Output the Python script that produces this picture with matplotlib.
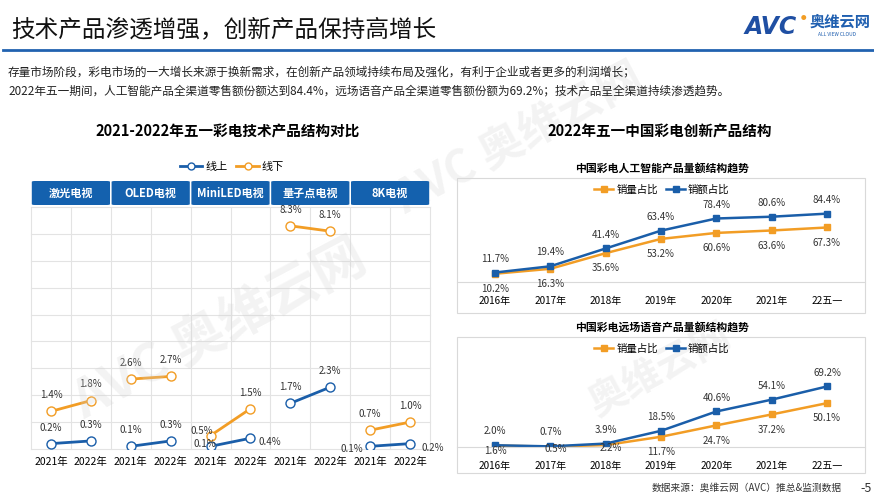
import numpy as np
import matplotlib
matplotlib.use("Agg")
from matplotlib import pyplot as plt
from matplotlib.patches import FancyBboxPatch, Rectangle
from matplotlib.lines import Line2D
import matplotlib.transforms as mtrans

plt.rcParams['font.family'] = ['Noto Sans CJK SC', 'DejaVu Sans']

# ---- data ----
tech_names = ['激光电视', 'OLED电视', 'MiniLED电视', '量子点电视', '8K电视']
years_lr = ['2021年', '2022年']
online = [0.2, 0.3, 0.1, 0.3, 0.1, 0.4, 1.7, 2.3, 0.1, 0.2]     # 线上
offline = [1.4, 1.8, 2.6, 2.7, 0.5, 1.5, 8.3, 8.1, 0.7, 1.0]    # 线下

years_r = ['2016年', '2017年', '2018年', '2019年', '2020年', '2021年', '22五一']
ai_vol = [10.2, 16.3, 35.6, 53.2, 60.6, 63.6, 67.3]
ai_amt = [11.7, 19.4, 41.4, 63.4, 78.4, 80.6, 84.4]
voice_vol = [1.6, 0.5, 2.2, 11.7, 24.7, 37.2, 50.1]
voice_amt = [2.0, 0.7, 3.9, 18.5, 40.6, 54.1, 69.2]

W, H = 874, 503
BLUE = '#1a5ea9'
ORANGE = '#f29d25'
HEAD = '#1461ae'
GRID = '#e3e3e3'

fig = plt.figure(figsize=(W / 100, H / 100), dpi=100)


def px_axes(x0, y0, x1, y1):
    return fig.add_axes([x0 / W, 1 - y1 / H, (x1 - x0) / W, (y1 - y0) / H])


def ftxt(x, y, s, **kw):
    fig.text(x / W, 1 - y / H, s, **kw)


# ---- watermarks (faint) ----
wm = dict(color='#d0d0d0', alpha=0.25, rotation=28, ha='center', va='center', fontweight='bold', zorder=0)
ftxt(220, 330, 'AVC 奥维云网', fontsize=38, **wm)
ftxt(520, 140, 'AVC 奥维云网', fontsize=32, **wm)
ftxt(660, 370, '奥维云网', fontsize=28, **wm)

# ---- header ----
ftxt(11, 30, '技术产品渗透增强，创新产品保持高增长', fontsize=17, va='center', color='#111111')
fig.add_artist(Line2D([3 / W, 1], [1 - 50 / H, 1 - 50 / H], color='#2162b0', lw=2))
ftxt(745, 27, 'AVC', fontsize=17, fontweight='bold', fontstyle='italic', color='#1f4fa3', va='center',
     family=['DejaVu Sans'])
ftxt(801, 19, '●', fontsize=4, color='#f29d25', va='center')
ftxt(810, 22, '奥维云网', fontsize=11, fontweight='bold', color='#1f5fb0', va='center')
ftxt(818, 34, 'ALL VIEW CLOUD', fontsize=3.5, color='#1f5fb0', va='center')

ftxt(8, 72, '存量市场阶段，彩电市场的一大增长来源于换新需求，在创新产品领域持续布局及强化，有利于企业或者更多的利润增长；',
     fontsize=8.4, va='center', color='#222222')
ftxt(8, 91, '2022年五一期间，人工智能产品全渠道零售额份额达到84.4%，远场语音产品全渠道零售额份额为69.2%；技术产品呈全渠道持续渗透趋势。',
     fontsize=8.4, va='center', color='#222222')

# ---- left chart ----
ftxt(228, 132, '2021-2022年五一彩电技术产品结构对比', fontsize=10.5, fontweight='bold', ha='center', va='center')

ax = px_axes(31, 207, 430, 449)
x = np.arange(len(online))
ax.set_xlim(-0.5, 9.5)
ax.set_ylim(0, 9)
for v in np.arange(-0.5, 10, 1):
    ax.axvline(v, color=GRID, lw=0.8, zorder=0, clip_on=False)
for v in range(0, 10):
    ax.axhline(v, color=GRID, lw=0.8, zorder=0, clip_on=False)
for s in ax.spines.values():
    s.set_visible(False)
ax.set_yticks([])
ax.set_xticks(x)
ax.set_xticklabels(years_lr * len(tech_names), fontsize=7.5)
ax.tick_params(axis='x', length=0, pad=6)

on_off = {4: (-4, 2), 5: (14, -3), 8: (-13, -2), 9: (16, -3)}
off_off = {4: (-6, 0)}
for i in range(len(tech_names)):
    seg = slice(2 * i, 2 * i + 2)
    ax.plot(x[seg], online[seg], color=BLUE, lw=2, marker='o', ms=6.5, mfc='white', mec=BLUE, mew=1, zorder=3)
    ax.plot(x[seg], offline[seg], color=ORANGE, lw=2, marker='o', ms=6.5, mfc='white', mec=ORANGE, mew=1, zorder=3)
for j in range(len(online)):
    dx, dy = on_off.get(j, (0, 8))
    ax.annotate(f'{online[j]:.1f}%', (x[j], online[j]), xytext=(dx, dy), textcoords='offset points',
                ha='center', va='center' if j in on_off else 'bottom', fontsize=7, color='#333333')
    dx, dy = off_off.get(j, (0, 8))
    ax.annotate(f'{offline[j]:.1f}%', (x[j], offline[j]), xytext=(dx, dy), textcoords='offset points',
                ha='center', va='bottom', fontsize=7, color='#333333')

# header boxes
tr = mtrans.blended_transform_factory(ax.transData, fig.transFigure)
for i, name in enumerate(tech_names):
    x0 = 2 * i - 0.5 + 0.02
    box = FancyBboxPatch((x0, 1 - 205 / H), 2 - 0.04, 24 / H, boxstyle='round,pad=0,rounding_size=0.08',
                         transform=tr, facecolor=HEAD, edgecolor='none', clip_on=False,
                         mutation_aspect=0.02)
    fig.add_artist(box)
    fig.text(2 * i + 0.5, 1 - 193 / H, name, transform=tr, ha='center', va='center',
             color='white', fontsize=8, fontweight='bold')

hl = [Line2D([], [], color=BLUE, lw=2, marker='o', ms=5, mfc='white', mec=BLUE),
      Line2D([], [], color=ORANGE, lw=2, marker='o', ms=5, mfc='white', mec=ORANGE)]
fig.legend(hl, ['线上', '线下'], loc='center', bbox_to_anchor=(232 / W, 1 - 167 / H), ncol=2, frameon=False,
           fontsize=8, handlelength=2, handletextpad=0.3, columnspacing=0.8)

# ---- right charts ----
ftxt(660, 132, '2022年五一中国彩电创新产品结构', fontsize=10.5, fontweight='bold', ha='center', va='center')


def trend(y_top, y_base, y_box0, y_box1, sub, vol, amt, ymax, vol_off):
    ftxt(662, y_box0 - 10, sub, fontsize=7.8, fontweight='bold', ha='center', va='center')
    fig.add_artist(Rectangle((457 / W, 1 - y_box1 / H), 408 / W, (y_box1 - y_box0) / H,
                             transform=fig.transFigure, fill=False, edgecolor='#d9d9d9', lw=0.8))
    a = px_axes(457, y_top, 865, y_base)
    xr = np.arange(len(years_r))
    a.set_xlim(-0.687, 6.687)
    a.set_ylim(0, ymax)
    for s in ['top', 'left', 'right']:
        a.spines[s].set_visible(False)
    a.spines['bottom'].set_color('#d9d9d9')
    a.set_yticks([])
    a.set_xticks(xr)
    a.set_xticklabels(years_r, fontsize=7.2)
    a.tick_params(axis='x', length=0, pad=10)
    a.patch.set_alpha(0)
    l1, = a.plot(xr, vol, color=ORANGE, lw=1.8, marker='s', ms=4.5, label='销量占比')
    l2, = a.plot(xr, amt, color=BLUE, lw=1.8, marker='s', ms=4.5, label='销额占比')
    for k in range(len(xr)):
        a.annotate(f'{amt[k]:.1f}%', (xr[k], amt[k]), xytext=(0, 10), textcoords='offset points',
                   ha='center', va='center', fontsize=7, color='#333333')
        dx, dy = vol_off.get(k, (0, -11))
        a.annotate(f'{vol[k]:.1f}%', (xr[k], vol[k]), xytext=(dx, dy), textcoords='offset points',
                   ha='center', va='center', fontsize=7, color='#333333')
    fig.legend([l1, l2], ['销量占比', '销额占比'], loc='center', bbox_to_anchor=(662 / W, 1 - (y_box0 + 12) / H),
               ncol=2, frameon=False, fontsize=7.5, handlelength=1.8, handletextpad=0.3, columnspacing=0.8)


trend(201, 282, 178, 313, '中国彩电人工智能产品量额结构趋势', ai_vol, ai_amt, 100, {})
trend(377, 447, 337, 473, '中国彩电远场语音产品量额结构趋势', voice_vol, voice_amt, 80,
      {0: (0, -4), 1: (4, -2), 2: (4, -2)})

ftxt(842, 488, '数据来源：奥维云网（AVC）推总&监测数据', fontsize=7, ha='right', va='center', color='#333333')
ftxt(860, 488, '-5', fontsize=9, ha='left', va='center', color='#333333')

fig.savefig('out.png', dpi=100)
